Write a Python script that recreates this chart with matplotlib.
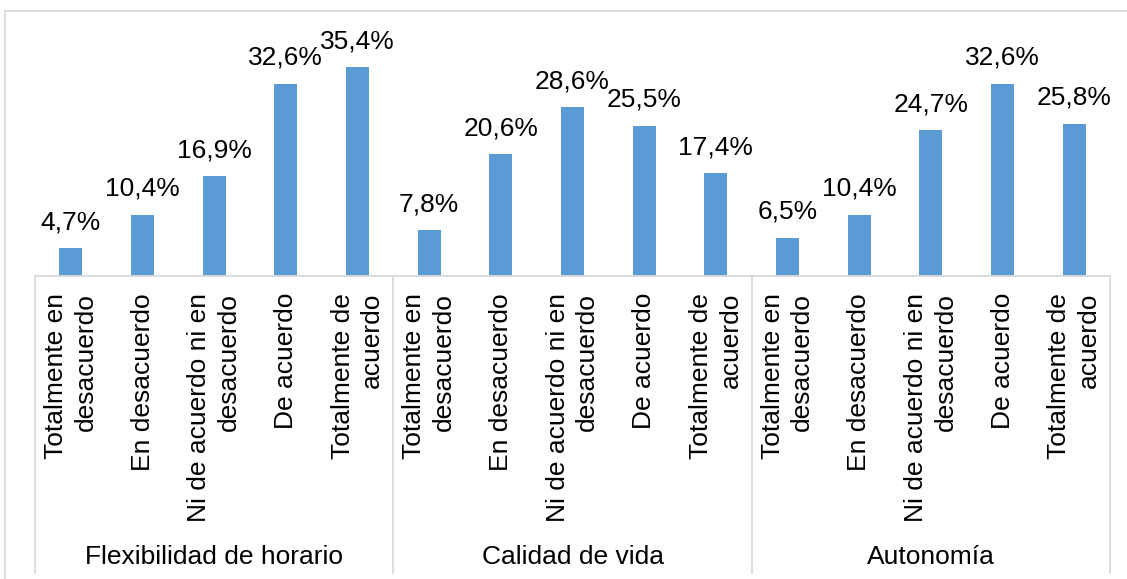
import matplotlib
matplotlib.use("Agg")
import matplotlib.pyplot as plt
import matplotlib.transforms as mtransforms
from matplotlib.lines import Line2D

plt.rcParams['font.family'] = ['Liberation Sans', 'DejaVu Sans']

# datos
groups = ["Flexibilidad de horario", "Calidad de vida", "Autonomía"]
categories = [
    "Totalmente en\ndesacuerdo",
    "En desacuerdo",
    "Ni de acuerdo ni en\ndesacuerdo",
    "De acuerdo",
    "Totalmente de\nacuerdo",
]
flexibilidad = [4.7, 10.4, 16.9, 32.6, 35.4]
calidad = [7.8, 20.6, 28.6, 25.5, 17.4]
autonomia = [6.5, 10.4, 24.7, 32.6, 25.8]

values = flexibilidad + calidad + autonomia
labels = categories * len(groups)

W, H = 1127, 579
BAR_COLOR = "#5B9BD5"
LINE_COLOR = "#D9D9D9"
FS = 19

fig = plt.figure(figsize=(W / 100, H / 100), dpi=100)
base_y = 276
top_y = 40
left_x, right_x = 35, 1110
ax = fig.add_axes([left_x / W, 1 - base_y / H, (right_x - left_x) / W, (base_y - top_y) / H])

x = list(range(len(values)))
ax.bar(x, values, width=0.32, color=BAR_COLOR)
ax.set_xlim(-0.5, len(values) - 0.5)
ax.set_ylim(0, 40)

for xi, v in zip(x, values):
    txt = f"{v:.1f}".replace(".", ",") + "%"
    ax.annotate(txt, (xi, v), xytext=(0, 10), textcoords="offset points",
                ha="center", va="bottom", fontsize=FS)

for side in ["top", "right", "left"]:
    ax.spines[side].set_visible(False)
ax.spines["bottom"].set_color(LINE_COLOR)
ax.spines["bottom"].set_linewidth(1.3)
ax.set_yticks([])
ax.set_xticks([])

# eje de categorías multinivel
trans = mtransforms.blended_transform_factory(ax.transData, fig.transFigure)


def fy(py):
    return 1 - py / H


for xi, lab in zip(x, labels):
    ax.text(xi, fy(293), lab, transform=trans, rotation=90, ha="center", va="top",
            multialignment="right", fontsize=FS, linespacing=1.3)

n = len(categories)
for g, name in enumerate(groups):
    center = g * n + (n - 1) / 2
    ax.text(center, fy(557), name, transform=trans, ha="center", va="center", fontsize=FS)

for g in range(len(groups) + 1):
    xs = g * n - 0.5
    fig.add_artist(Line2D([xs, xs], [fy(base_y), fy(573)], transform=trans,
                          color=LINE_COLOR, lw=1.3, clip_on=False))

# borde del gráfico
fig.add_artist(Line2D([5 / W, 5 / W], [fy(11), 0], transform=fig.transFigure, color=LINE_COLOR, lw=1.3))
fig.add_artist(Line2D([5 / W, 1], [fy(11), fy(11)], transform=fig.transFigure, color=LINE_COLOR, lw=1.3))

fig.savefig("out.png", dpi=100)
